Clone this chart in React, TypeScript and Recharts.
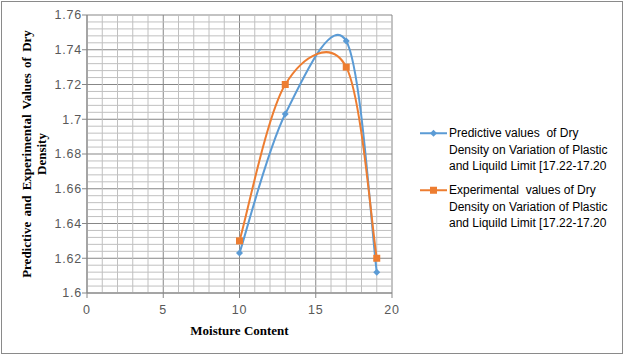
import React from 'react';
import { LineChart, Line, XAxis, YAxis, CartesianGrid, ReferenceLine, Legend } from 'recharts';

const moisture = [10, 13, 17, 19];
const predicted = [1.623, 1.703, 1.745, 1.612];
const experimental = [1.63, 1.72, 1.73, 1.62];

const xTicks = [0, 5, 10, 15, 20];
const yTicks = [1.6, 1.62, 1.64, 1.66, 1.68, 1.7, 1.72, 1.74, 1.76];
const xMinor = [1, 2, 3, 4, 6, 7, 8, 9, 11, 12, 13, 14, 16, 17, 18, 19];
const yMinor = [
  1.604, 1.608, 1.612, 1.616, 1.624, 1.628, 1.632, 1.636,
  1.644, 1.648, 1.652, 1.656, 1.664, 1.668, 1.672, 1.676,
  1.684, 1.688, 1.692, 1.696, 1.704, 1.708, 1.712, 1.716,
  1.724, 1.728, 1.732, 1.736, 1.744, 1.748, 1.752, 1.756,
];

const predictedName = 'Predictive values  of Dry Density on Variation of Plastic and Liquild Limit [17.22-17.20';
const experimentalName = 'Experimental  values of Dry Density on Variation of Plastic and Liquild Limit [17.22-17.20';
const legendOrder = ['predicted', 'experimental'];
const legendLines: Record<string, string[]> = {
  predicted: ['Predictive values  of Dry', 'Density on Variation of Plastic', 'and Liquild Limit [17.22-17.20'],
  experimental: ['Experimental  values of Dry', 'Density on Variation of Plastic', 'and Liquild Limit [17.22-17.20'],
};

const rows = moisture.map((m, i) => ({ moisture: m, predicted: predicted[i], experimental: experimental[i] }));

const BLUE = '#5b9bd5';
const ORANGE = '#ed7d31';
const MAJOR = '#878787';
const MINOR = '#c0c0c0';
const TICK_FONT = '"Liberation Sans", Arial, sans-serif';
const TITLE_FONT = '"Liberation Serif", "Times New Roman", serif';

// excel style smoothing (catmull-rom through the points)
const excelSmooth: any = (context: any) => {
  let pts: number[][] = [];
  return {
    areaStart() {},
    areaEnd() {},
    lineStart() {
      pts = [];
    },
    point(x: number, y: number) {
      pts.push([+x, +y]);
    },
    lineEnd() {
      if (!pts.length) return;
      context.moveTo(pts[0][0], pts[0][1]);
      for (let i = 0; i < pts.length - 1; i++) {
        const p0 = pts[Math.max(i - 1, 0)];
        const p1 = pts[i];
        const p2 = pts[i + 1];
        const p3 = pts[Math.min(i + 2, pts.length - 1)];
        context.bezierCurveTo(
          p1[0] + (p2[0] - p0[0]) / 6,
          p1[1] + (p2[1] - p0[1]) / 6,
          p2[0] - (p3[0] - p1[0]) / 6,
          p2[1] - (p3[1] - p1[1]) / 6,
          p2[0],
          p2[1]
        );
      }
    },
  };
};

const Diamond = ({ cx, cy, color }: any) => (
  <path d={`M${cx},${cy - 3.5}L${cx + 3.5},${cy}L${cx},${cy + 3.5}L${cx - 3.5},${cy}Z`} fill={color} />
);
const Square = ({ cx, cy, color }: any) => (
  <rect x={cx - 3.5} y={cy - 3.5} width={7} height={7} fill={color} />
);

const renderLegend = (props: any) => {
  const payload = [...(props.payload || [])].sort(
    (a: any, b: any) => legendOrder.indexOf(a.dataKey) - legendOrder.indexOf(b.dataKey)
  );
  return (
    <div style={{ fontFamily: TICK_FONT, fontSize: 12, color: '#000' }}>
      {payload.map((entry: any) => {
        const key = entry.dataKey as string;
        const lines = legendLines[key] || [entry.value];
        return (
          <div key={key} style={{ display: 'flex', alignItems: 'flex-start', marginBottom: 7.5 }}>
            <svg width={29} height={16.5} style={{ flex: 'none' }}>
              <line x1={0} y1={8.25} x2={27} y2={8.25} stroke={entry.color} strokeWidth={2} />
              {key === 'predicted' ? (
                <Diamond cx={13.5} cy={8.25} color={entry.color} />
              ) : (
                <Square cx={13.5} cy={8.25} color={entry.color} />
              )}
            </svg>
            <div>
              {lines.map((l) => (
                <div key={l} style={{ height: 16.5, lineHeight: '16.5px', whiteSpace: 'pre' }}>
                  {l}
                </div>
              ))}
            </div>
          </div>
        );
      })}
    </div>
  );
};

const XTitle = (props: any) => {
  const { viewBox } = props;
  return (
    <text
      x={viewBox.x + viewBox.width / 2}
      y={viewBox.y + 37}
      textAnchor="middle"
      dominantBaseline="central"
      fontFamily={TITLE_FONT}
      fontWeight="bold"
      fontSize={13}
      fill="#000"
    >
      Moisture Content
    </text>
  );
};

const YTitle = (props: any) => {
  const { viewBox } = props;
  const cy = viewBox.y + viewBox.height / 2;
  return (
    <g fontFamily={TITLE_FONT} fontWeight="bold" fontSize={13} fill="#000">
      <text x={26} y={cy} textAnchor="middle" dominantBaseline="central" transform={`rotate(-90 26 ${cy})`} style={{ wordSpacing: 2 }}>
        Predictive and Experimental Values of Dry
      </text>
      <text x={41} y={cy} textAnchor="middle" dominantBaseline="central" transform={`rotate(-90 41 ${cy})`}>
        Density
      </text>
    </g>
  );
};

const fmt = (v: number) => String(+v.toFixed(2));

const tickStyle = { fill: '#595959', fontSize: 12.5, fontFamily: TICK_FONT, letterSpacing: 0.8 };

export default function App() {
  return (
    <div style={{ position: 'absolute', left: 0, top: 0, width: 624, height: 355, background: '#fff' }}>
      <div
        style={{
          position: 'absolute',
          left: 1,
          top: 1,
          width: 622,
          height: 353,
          boxSizing: 'border-box',
          border: '1px solid #8a8a8a',
        }}
      />
      <LineChart width={624} height={355} data={rows} margin={{ top: 15, right: 232, bottom: 0, left: 0 }}>
        {xMinor.map((v) => (
          <ReferenceLine key={'x' + v} x={v} stroke={MINOR} strokeWidth={1} />
        ))}
        {yMinor.map((v) => (
          <ReferenceLine key={'y' + v} y={v} stroke={MINOR} strokeWidth={1} />
        ))}
        <CartesianGrid stroke={MAJOR} strokeWidth={1} />
        <XAxis
          type="number"
          dataKey="moisture"
          domain={[0, 20]}
          ticks={xTicks}
          height={62}
          axisLine={{ stroke: MAJOR }}
          tickLine={{ stroke: MAJOR }}
          tickSize={5}
          tickMargin={7}
          tick={tickStyle}
          label={<XTitle />}
        />
        <YAxis
          type="number"
          domain={[1.6, 1.76]}
          ticks={yTicks}
          width={87}
          tickFormatter={fmt}
          axisLine={{ stroke: MAJOR }}
          tickLine={{ stroke: MAJOR }}
          tickSize={5}
          tickMargin={0}
          tick={tickStyle}
          label={<YTitle />}
        />
        <Legend
          content={renderLegend}
          layout="vertical"
          align="center"
          verticalAlign="middle"
          wrapperStyle={{ left: 420, top: 125, width: 202 }}
        />
        <Line
          dataKey="predicted"
          name={predictedName}
          type={excelSmooth}
          stroke={BLUE}
          strokeWidth={2}
          dot={(p: any) => <Diamond key={'p' + p.index} cx={p.cx} cy={p.cy} color={BLUE} />}
          activeDot={false}
          isAnimationActive={false}
        />
        <Line
          dataKey="experimental"
          name={experimentalName}
          type={excelSmooth}
          stroke={ORANGE}
          strokeWidth={2}
          dot={(p: any) => <Square key={'e' + p.index} cx={p.cx} cy={p.cy} color={ORANGE} />}
          activeDot={false}
          isAnimationActive={false}
        />
      </LineChart>
    </div>
  );
}
